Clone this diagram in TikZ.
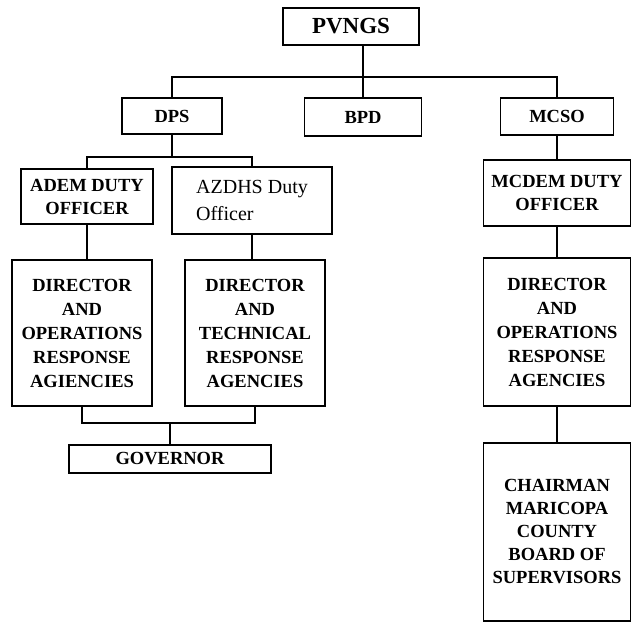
\documentclass[tikz,border=0pt]{standalone}
\usepackage{fontspec}
\setmainfont{Liberation Serif}
\begin{document}
\begin{tikzpicture}[x=1pt,y=1pt,
  orgbox/.style={draw, line width=1.8pt, rectangle, inner sep=0pt, align=center,
    font=\bfseries\fontsize{18.5}{24}\selectfont},
  link/.style={line width=1.8pt}]
\useasboundingbox (0,0) rectangle (633,-623);
\fill[white] (0,0) rectangle (633,-623);
% top level
\node[orgbox, minimum width=136, minimum height=37, font=\bfseries\fontsize{23}{26}\selectfont] (pv) at (351,-26.5) {PVNGS};
\node[orgbox, minimum width=100, minimum height=36] (dps) at (172,-116) {DPS};
\node[orgbox, minimum width=117, minimum height=38] (bpd) at (363,-117) {BPD};
\node[orgbox, minimum width=113, minimum height=37] (mcso) at (557,-116.5) {MCSO};
% officers
\node[orgbox, minimum width=132, minimum height=55, font=\bfseries\fontsize{18.5}{23}\selectfont] (adem) at (87,-196.5) {ADEM DUTY\\OFFICER};
\node[orgbox, minimum width=160, minimum height=67, align=left, font=\fontsize{20}{27}\selectfont] (azdhs) at (252,-200.5) {AZDHS Duty\\Officer};
\node[orgbox, minimum width=147, minimum height=66, font=\bfseries\fontsize{18.5}{23}\selectfont] (mcdem) at (557,-193) {MCDEM DUTY\\OFFICER};
% directors
\node[orgbox, minimum width=140, minimum height=146] (dirL) at (82,-333) {DIRECTOR\\AND\\OPERATIONS\\RESPONSE\\AGIENCIES};
\node[orgbox, minimum width=140, minimum height=146] (dirT) at (255,-333) {DIRECTOR\\AND\\TECHNICAL\\RESPONSE\\AGENCIES};
\node[orgbox, minimum width=147, minimum height=148] (dirM) at (557,-332) {DIRECTOR\\AND\\OPERATIONS\\RESPONSE\\AGENCIES};
% bottom
\node[orgbox, minimum width=202, minimum height=28] (gov) at (170,-459) {GOVERNOR};
\node[orgbox, minimum width=147, minimum height=178, font=\bfseries\fontsize{18.5}{23}\selectfont] (chair) at (557,-532) {CHAIRMAN\\MARICOPA\\COUNTY\\BOARD OF\\SUPERVISORS};
% bus coordinates
\coordinate (b1) at (0,-77);
\coordinate (b2) at (0,-157);
\coordinate (b3) at (0,-423);
% connectors
\draw[link] (pv.south -| bpd.north) -- (bpd.north);
\draw[link] (dps.north) -- (dps.north |- b1) -- (mcso.north |- b1) -- (mcso.north);
\draw[link] (dps.south) -- (dps.south |- b2);
\draw[link] (adem.north) -- (adem.north |- b2) -- (azdhs.north |- b2) -- (azdhs.north);
\draw[link] (adem.south) -- (adem.south |- dirL.north);
\draw[link] (azdhs.south) -- (azdhs.south |- dirT.north);
\draw[link] (dirL.south) -- (dirL.south |- b3) -- (dirT.south |- b3) -- (dirT.south);
\draw[link] (gov.north) -- (gov.north |- b3);
\draw[link] (mcso.south) -- (mcso.south |- mcdem.north);
\draw[link] (mcdem.south) -- (mcdem.south |- dirM.north);
\draw[link] (dirM.south) -- (dirM.south |- chair.north);
\end{tikzpicture}
\end{document}
